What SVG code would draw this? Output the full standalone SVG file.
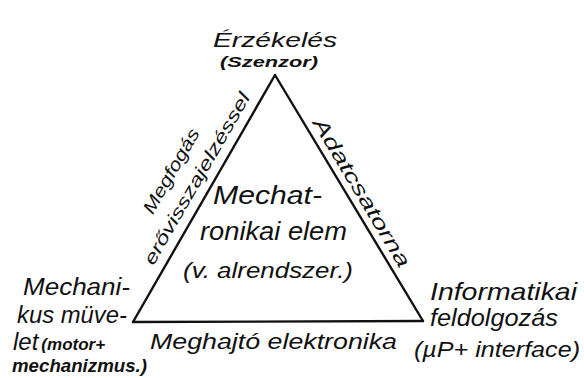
<svg xmlns="http://www.w3.org/2000/svg" width="584" height="378" viewBox="0 0 584 378">
  <style>
    .lbl { font-family: "Liberation Sans", "DejaVu Sans", sans-serif; font-style: italic; fill: #111; }
    .bold { font-weight: bold; }
    .edge { stroke: #111; stroke-width: 2.4; stroke-linecap: round; fill: none; }
  </style>
  <rect width="584" height="378" fill="#fff"/>

  <!-- triangle sides and their labels -->
  <g id="connectors">
    <line class="edge" x1="275" y1="75" x2="133" y2="322"/>
    <line class="edge" x1="275" y1="75" x2="423" y2="321"/>
    <line class="edge" x1="133" y1="322" x2="423" y2="321"/>
    <text class="lbl" font-size="18" text-anchor="middle" transform="translate(176.5,174) rotate(-60.1)" textLength="95" lengthAdjust="spacingAndGlyphs">Megfogás</text>
    <text class="lbl" font-size="18" text-anchor="middle" transform="translate(202,181.7) rotate(-60.1)" textLength="195" lengthAdjust="spacingAndGlyphs">erővisszajelzéssel</text>
    <text class="lbl" font-size="20" text-anchor="middle" transform="translate(356,196) rotate(59.1)" textLength="170" lengthAdjust="spacingAndGlyphs">Adatcsatorna</text>
    <text class="lbl" font-size="22" x="150" y="349" textLength="247" lengthAdjust="spacingAndGlyphs">Meghajtó elektronika</text>
  </g>

  <!-- sensor vertex -->
  <g id="node-sensor">
    <text class="lbl" font-size="21" x="213" y="47" textLength="124" lengthAdjust="spacingAndGlyphs">Érzékelés</text>
    <text class="lbl bold" font-size="15" x="220" y="67" textLength="98" lengthAdjust="spacingAndGlyphs">(Szenzor)</text>
  </g>

  <!-- mechanical vertex -->
  <g id="node-mechanics">
    <text class="lbl" font-size="24" x="23" y="295" textLength="107" lengthAdjust="spacingAndGlyphs">Mechani-</text>
    <text class="lbl" font-size="24" x="17" y="323" textLength="110" lengthAdjust="spacingAndGlyphs">kus müve-</text>
    <text class="lbl" font-size="24" x="13" y="350"><tspan>let</tspan><tspan class="bold" font-size="17" dx="3">(motor+</tspan></text>
    <text class="lbl bold" font-size="18" x="12" y="372" textLength="135" lengthAdjust="spacingAndGlyphs">mechanizmus.)</text>
  </g>

  <!-- information processing vertex -->
  <g id="node-informatics">
    <text class="lbl" font-size="24" x="430" y="300" textLength="147" lengthAdjust="spacingAndGlyphs">Informatikai</text>
    <text class="lbl" font-size="24" x="430" y="326" textLength="128" lengthAdjust="spacingAndGlyphs">feldolgozás</text>
    <text class="lbl" font-size="22" x="414" y="357" textLength="166" lengthAdjust="spacingAndGlyphs">(µP+ interface)</text>
  </g>

  <!-- centre label -->
  <g id="node-element">
    <text class="lbl" font-size="26" x="213" y="204" textLength="109" lengthAdjust="spacingAndGlyphs">Mechat-</text>
    <text class="lbl" font-size="26" x="200" y="240" textLength="147" lengthAdjust="spacingAndGlyphs">ronikai elem</text>
    <text class="lbl" font-size="22" x="183" y="278" textLength="170" lengthAdjust="spacingAndGlyphs">(v. alrendszer.)</text>
  </g>
</svg>
